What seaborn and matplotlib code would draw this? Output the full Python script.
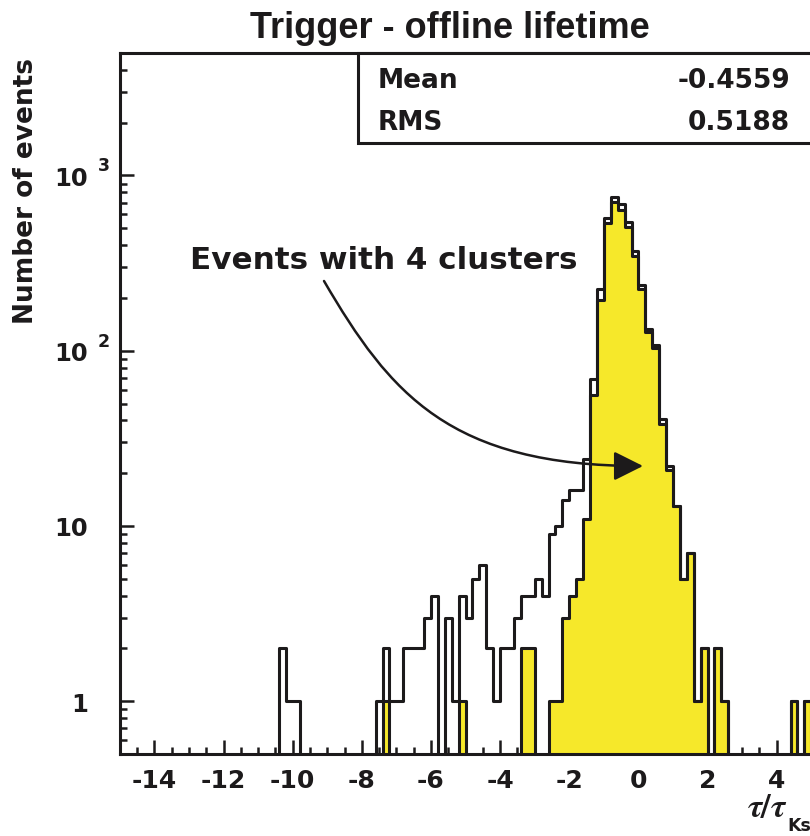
import numpy as np
import pandas as pd
import matplotlib
matplotlib.use("Agg")
import matplotlib.pyplot as plt
import seaborn as sns
from matplotlib.patches import Rectangle, FancyArrowPatch
from matplotlib.path import Path
from matplotlib.ticker import MultipleLocator, LogLocator, NullFormatter

# ---------------- data ----------------
# left edges of 0.2-wide bins and counts, all events (open histogram)
all_left = [-10.4, -10.2, -10.0,
            -7.6, -7.4, -7.2, -7.0, -6.8, -6.6, -6.4, -6.2, -6.0,
            -5.6, -5.4, -5.2, -5.0, -4.8, -4.6, -4.4, -4.2, -4.0, -3.8,
            -3.6, -3.4, -3.2, -3.0, -2.8, -2.6, -2.4, -2.2, -2.0, -1.8,
            -1.6, -1.4, -1.2, -1.0, -0.8, -0.6, -0.4, -0.2, 0.0, 0.2,
            0.4, 0.6, 0.8, 1.0, 1.2, 1.4, 1.6, 1.8, 2.2, 2.4, 4.4, 4.8]
all_counts = [2, 1, 1,
              1, 2, 1, 1, 2, 2, 2, 3, 4,
              3, 1, 4, 3, 5, 6, 2, 1, 2, 2,
              3, 4, 4, 5, 4, 9, 10, 14, 16, 16,
              24, 69, 226, 570, 751, 688, 541, 373, 238, 133,
              108, 41, 22, 13, 5, 7, 1, 2, 2, 1, 1, 1]

# events with 4 clusters (yellow filled histogram)
four_left = [-7.4, -5.2, -3.4, -3.2, -2.6, -2.4, -2.2, -2.0, -1.8,
             -1.6, -1.4, -1.2, -1.0, -0.8, -0.6, -0.4, -0.2, 0.0, 0.2,
             0.4, 0.6, 0.8, 1.0, 1.2, 1.4, 1.6, 1.8, 2.2, 2.4, 4.4, 4.8]
four_counts = [1, 1, 2, 2, 1, 1, 3, 4, 5,
               11, 56, 194, 536, 703, 636, 507, 349, 226, 128,
               103, 38, 21, 13, 5, 7, 1, 2, 2, 1, 1, 1]

x_ticks = [-14, -12, -10, -8, -6, -4, -2, 0, 2, 4]
y_ticks = [1, 10, 100, 1000]
y_tick_labels = ["1", "10", "10", "10"]
y_exponent_ticks = [100, 1000]
y_exponents = ["2", "3"]

title = "Trigger - offline lifetime"
ylabel = "Number of events"
annotation = "Events with 4 clusters"
stats_names = ["Mean", "RMS"]
stats_values = ["-0.4559", "0.5188"]

X_MIN, X_MAX, BIN_W = -15.0, 5.0, 0.2
Y_MIN, Y_MAX = 0.5, 5000

YELLOW = "#f6e82a"
INK = "#1c1a1b"
LW = 2.2

# ---------------- figure ----------------
sns.set_style("ticks")
plt.rcParams["font.family"] = ["DejaVu Sans"]
plt.rcParams["font.weight"] = "bold"
plt.rcParams["axes.linewidth"] = LW
plt.rcParams["mathtext.fontset"] = "stix"
plt.rcParams["text.color"] = INK
plt.rcParams["xtick.color"] = INK
plt.rcParams["ytick.color"] = INK

W, H = 810, 837
fig = plt.figure(figsize=(W / 100, H / 100), dpi=100)

def fx(px):
    return px / W

def fy(py):
    return 1 - py / H

ax_l, ax_r, ax_t, ax_b = 119.8, 811.3, 54, 755
ax = fig.add_axes([fx(ax_l), fy(ax_b), (ax_r - ax_l) / W, (ax_b - ax_t) / H])
ax.set_yscale("log")

df_all = pd.DataFrame({"tau": np.array(all_left) + BIN_W / 2, "n": all_counts})
df_four = pd.DataFrame({"tau": np.array(four_left) + BIN_W / 2, "n": four_counts})

sns.histplot(data=df_four, x="tau", weights="n", binwidth=BIN_W,
             binrange=(X_MIN, X_MAX), element="step",
             fill=True, facecolor=YELLOW, edgecolor=INK, linewidth=LW,
             ax=ax, zorder=2)
sns.histplot(data=df_all, x="tau", weights="n", binwidth=BIN_W,
             binrange=(X_MIN, X_MAX), element="step",
             fill=False, color=INK, linewidth=LW, ax=ax, zorder=3)

ax.set_xlim(X_MIN, X_MAX)
ax.set_ylim(Y_MIN, Y_MAX)
ax.set_xlabel("")
ax.set_ylabel("")

for s in ["left", "bottom", "top"]:
    ax.spines[s].set_visible(True)
    ax.spines[s].set_linewidth(LW)
    ax.spines[s].set_color(INK)
ax.spines["right"].set_visible(False)

ax.set_xticks(x_ticks, [str(v) for v in x_ticks])
ax.xaxis.set_minor_locator(MultipleLocator(0.5))
ax.set_yticks(y_ticks, y_tick_labels)
ax.yaxis.set_minor_locator(LogLocator(base=10, subs=np.arange(2, 10)))
ax.yaxis.set_minor_formatter(NullFormatter())

ax.tick_params(axis="both", which="major", direction="in", length=10, width=1.8,
               colors=INK, top=False, right=False)
ax.tick_params(axis="both", which="minor", direction="in", length=5, width=1.8,
               colors=INK, top=False, right=False)
ax.tick_params(axis="x", which="major", pad=10, labelsize=18)
ax.tick_params(axis="y", which="major", pad=23, labelsize=17.5)
for lab in ax.get_xticklabels() + ax.get_yticklabels():
    lab.set_fontweight("bold")

# exponents of the y labels
ytr = matplotlib.transforms.blended_transform_factory(fig.transFigure, ax.transData)
for v, e in zip(y_exponent_ticks, y_exponents):
    fig.text(fx(98), v * 1.07, e, transform=ytr, fontsize=12.5, fontweight="bold",
             ha="left", va="baseline")

# title
fig.text(fx(450), fy(38.5), title, fontsize=26, fontweight="bold",
         family=["Liberation Sans", "DejaVu Sans"], ha="center", va="baseline")

# y label
fig.text(fx(26), fy(58), ylabel, fontsize=19, fontweight="bold", rotation=90,
         ha="center", va="top")

# x label  tau / tau_Ks
fig.text(fx(787), fy(817), r"$\tau/\tau$", fontsize=24, ha="right", va="baseline")
fig.text(fx(787), fy(831), "Ks", fontsize=12.5, fontweight="bold",
         ha="left", va="baseline")

# stats box
box = Rectangle((fx(358), fy(143.5)), (850 - 358) / W, (143.5 - 54) / H,
                transform=fig.transFigure, facecolor="white", edgecolor=INK,
                linewidth=LW, zorder=5, clip_on=False)
fig.add_artist(box)
for i, (nm, val) in enumerate(zip(stats_names, stats_values)):
    base = 88.3 + 41.7 * i
    fig.text(fx(378), fy(base), nm, fontsize=19, fontweight="bold",
             ha="left", va="baseline", zorder=6)
    fig.text(fx(790), fy(base), val, fontsize=19, fontweight="bold",
             ha="right", va="baseline", zorder=6)

# annotation text and curved arrow
fig.text(fx(190), fy(269), annotation, fontsize=22.3, fontweight="bold",
         ha="left", va="baseline")
pts = [(324, 282), (390, 395), (450, 467), (643, 467)]
verts = [(fx(px), fy(py)) for px, py in pts]
arrow_path = Path(verts, [Path.MOVETO, Path.CURVE4, Path.CURVE4, Path.CURVE4])
arrow = FancyArrowPatch(path=arrow_path, transform=fig.transFigure,
                        arrowstyle="-|>,head_length=18,head_width=9",
                        mutation_scale=1, linewidth=1.8, color=INK,
                        shrinkA=0, shrinkB=0, zorder=6)
fig.add_artist(arrow)

fig.savefig("out.png", dpi=100)
